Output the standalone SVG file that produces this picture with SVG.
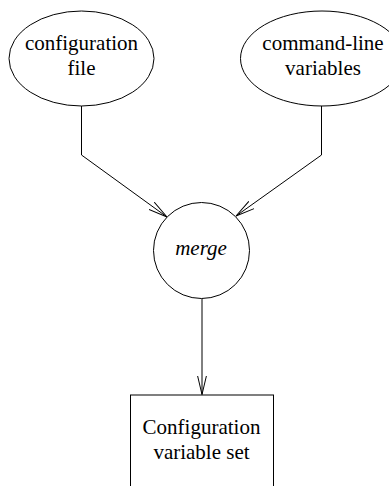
<svg xmlns="http://www.w3.org/2000/svg" width="389" height="486" viewBox="0 0 389 486" font-family="Liberation Serif, Times New Roman, serif">
<defs>
<marker id="arr" markerUnits="userSpaceOnUse" markerWidth="21" markerHeight="11" refX="19" refY="5.5" orient="auto">
<path d="M0,1 L19,5.5 L0,10" fill="none" stroke="#000" stroke-width="1"/>
</marker>
</defs>
<rect width="389" height="486" fill="#fff"/>
<g id="connectors" fill="none" stroke="#000" stroke-width="1">
<polyline points="81.5,106 81.5,155 167,217" marker-end="url(#arr)"/>
<polyline points="321.5,106 321.5,155 236,216" marker-end="url(#arr)"/>
<line x1="202" y1="298.5" x2="202" y2="394.5" marker-end="url(#arr)"/>
</g>
<g id="config-file">
<ellipse cx="81.5" cy="58.5" rx="72.5" ry="47.5" fill="#fff" stroke="#000" stroke-width="1"/>
<text x="81.5" y="50" style="font-family:'Liberation Serif',serif;font-size:21px" text-anchor="middle">configuration</text>
<text x="81.5" y="75" style="font-family:'Liberation Serif',serif;font-size:21px" text-anchor="middle">file</text>
</g>
<g id="cmdline-vars">
<ellipse cx="322" cy="58.5" rx="81.5" ry="47.5" fill="#fff" stroke="#000" stroke-width="1"/>
<text x="323" y="50" style="font-family:'Liberation Serif',serif;font-size:21px" text-anchor="middle">command-line</text>
<text x="323" y="75" style="font-family:'Liberation Serif',serif;font-size:21px" text-anchor="middle">variables</text>
</g>
<g id="merge">
<circle cx="201.5" cy="250.5" r="48" fill="#fff" stroke="#000" stroke-width="1"/>
<text x="201" y="255" style="font-family:'Liberation Serif',serif;font-size:21px;font-style:italic" text-anchor="middle">merge</text>
</g>
<g id="config-var-set">
<rect x="130.5" y="395" width="143" height="110" fill="#fff" stroke="#000" stroke-width="1"/>
<text x="201.5" y="434" style="font-family:'Liberation Serif',serif;font-size:21px" text-anchor="middle">Configuration</text>
<text x="201.5" y="459" style="font-family:'Liberation Serif',serif;font-size:21px" text-anchor="middle">variable set</text>
</g>
</svg>
